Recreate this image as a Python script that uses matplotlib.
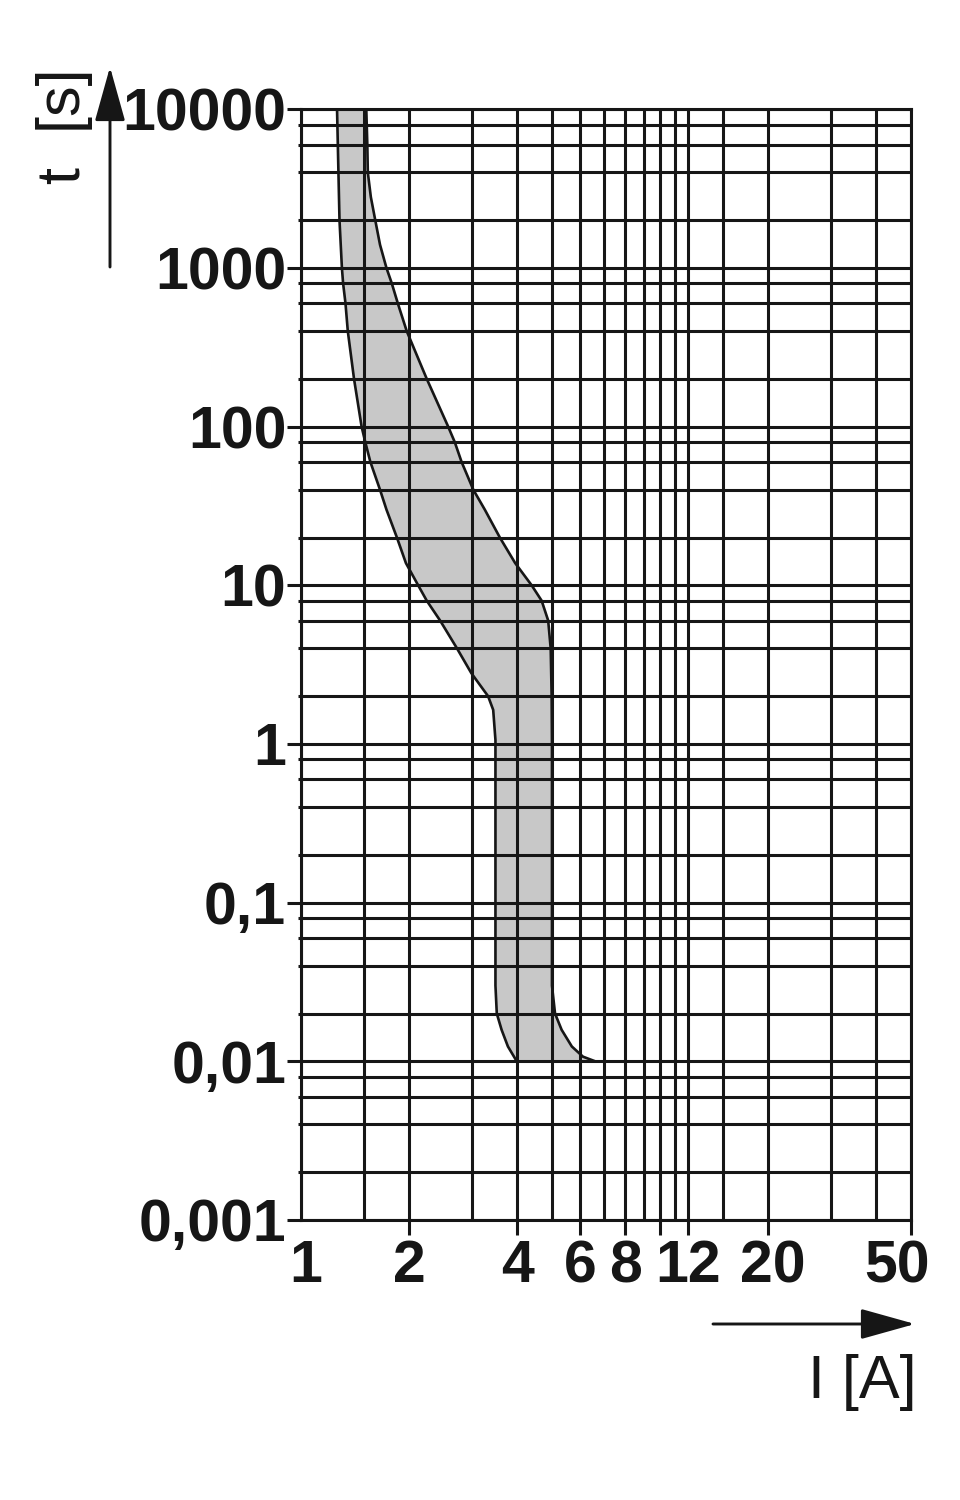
"""
Tripping characteristic: time-current band on log-log paper, saved to out.png.
"""
import matplotlib
matplotlib.use("Agg")
import matplotlib.pyplot as plt
from matplotlib.transforms import ScaledTranslation

# grid paper
x_grid = [1, 1.5, 2, 3, 4, 5, 6, 7, 8, 9, 10, 11, 12, 15, 20, 30, 40, 50]
decades = [0.001, 0.01, 0.1, 1, 10, 100, 1000]
y_grid = [d * m for d in decades for m in (1, 2, 4, 6, 8)] + [10000]

x_ticks = [1, 2, 4, 6, 8, 10, 12, 20, 50]
x_labels = ["1", "2", "4", "6", "8", "", "12", "20", "50"]
y_ticks = [0.001, 0.01, 0.1, 1, 10, 100, 1000, 10000]
y_labels = ["0,001", "0,01", "0,1", "1", "10", "100", "1000", "10000"]
y_minor = [d * m for d in decades for m in (2, 4, 6, 8)]

# left edge of the band (current in A, time in s)
lower_i = [1.26, 1.28, 1.30, 1.31, 1.33, 1.35, 1.405, 1.475, 1.51, 1.56, 1.66, 1.73, 1.85, 1.96,
           2.12, 2.24, 2.44, 2.72, 2.98, 3.32, 3.43, 3.48, 3.48, 3.48, 3.51, 3.62, 3.77, 3.99]
lower_t = [10000, 2000, 1000, 800, 600, 400, 200, 100, 80, 60, 40, 30, 20, 13.8,
           10, 8, 6, 4, 2.8, 2, 1.64, 1.06, 0.1, 0.03, 0.02, 0.0158, 0.0124, 0.01]

# right edge of the band
upper_i = [1.52, 1.53, 1.535, 1.565, 1.61, 1.66, 1.73, 1.79, 1.86, 1.97, 2.24, 2.57, 2.68, 2.80,
           3.02, 3.25, 3.58, 3.95, 4.39, 4.68, 4.88, 4.96, 4.99, 5.0, 5.0, 5.0, 5.10, 5.32, 5.68,
           6.10, 6.60]
upper_t = [10000, 6000, 4000, 2800, 2000, 1400, 1000, 800, 600, 400, 200, 100, 80, 60,
           40, 30, 20, 13.8, 10, 8, 6, 4, 2, 1, 0.1, 0.03, 0.02, 0.0158, 0.0124,
           0.0107, 0.01]

INK = "#161616"
BAND = "#c8c8c8"
LW = 2.2
W, H = 960, 1500

fig = plt.figure(figsize=(W / 100, H / 100), dpi=100)
ax = fig.add_axes([301 / W, 1 - 1220 / H, 610 / W, (1220 - 109.3) / H])
ax.set_xscale("log")
ax.set_yscale("log")
ax.set_xlim(1, 50)
ax.set_ylim(0.001, 10000)

# band first, grid on top of it, curves last
ax.fill(lower_i + upper_i[::-1], lower_t + upper_t[::-1], color=BAND, lw=0, zorder=1)
for x in x_grid:
    ax.axvline(x, color=INK, lw=LW, zorder=2)
for y in y_grid:
    ax.axhline(y, color=INK, lw=LW, zorder=2)
ax.plot(lower_i, lower_t, color=INK, lw=1.9, solid_joinstyle="round", zorder=3)
ax.plot(upper_i, upper_t, color=INK, lw=1.9, solid_joinstyle="round", zorder=3)

for s in ax.spines.values():
    s.set_linewidth(LW)
    s.set_color(INK)

tick_font = {"family": "Liberation Sans", "weight": "bold", "size": 42.5}
ax.set_xticks(x_ticks)
ax.set_xticklabels(x_labels, fontdict=tick_font)
ax.xaxis.set_minor_locator(matplotlib.ticker.NullLocator())
ax.set_yticks(y_ticks)
ax.set_yticklabels(y_labels, fontdict=tick_font)
ax.set_yticks(y_minor, minor=True)
ax.yaxis.set_minor_formatter(matplotlib.ticker.NullFormatter())

ax.tick_params(axis="x", which="major", length=10.8, width=LW, color=INK, pad=3, labelcolor=INK)
ax.tick_params(axis="y", which="major", length=10, width=LW, color=INK, pad=0.7, labelcolor=INK)
ax.tick_params(axis="y", which="minor", length=2.5, width=LW, color=INK)
ax.xaxis.get_major_ticks()[0].tick1line.set_visible(False)

# small label nudges (pixels) to sit like the printed sheet
nudges = {0: 5, 7: 5, 8: -14}
for idx, dx in nudges.items():
    lab = ax.xaxis.get_major_ticks()[idx].label1
    lab.set_transform(lab.get_transform() + ScaledTranslation(dx / 100, 0, fig.dpi_scale_trans))

# axis arrows and titles (figure pixels, origin bottom-left)
arrow = dict(arrowstyle="-|>,head_length=34,head_width=9.5", color=INK, lw=2.1,
             shrinkA=0, shrinkB=0, mutation_scale=1)
ax.annotate("", xy=(110, H - 67), xytext=(110, H - 267), xycoords="figure pixels",
            textcoords="figure pixels", arrowprops=arrow, annotation_clip=False)
ax.annotate("", xy=(915, H - 1324), xytext=(713, H - 1324), xycoords="figure pixels",
            textcoords="figure pixels", arrowprops=arrow, annotation_clip=False)

fig.text(80 / W, 1 - 184 / H, "t  [s]", rotation=90, rotation_mode="anchor",
         ha="left", va="baseline", family="Liberation Sans", size=44, color=INK)
fig.text(917 / W, 1 - 1398 / H, "I [A]", ha="right", va="baseline",
         family="Liberation Sans", size=44, color=INK)

fig.savefig("out.png", dpi=100, facecolor="white")
